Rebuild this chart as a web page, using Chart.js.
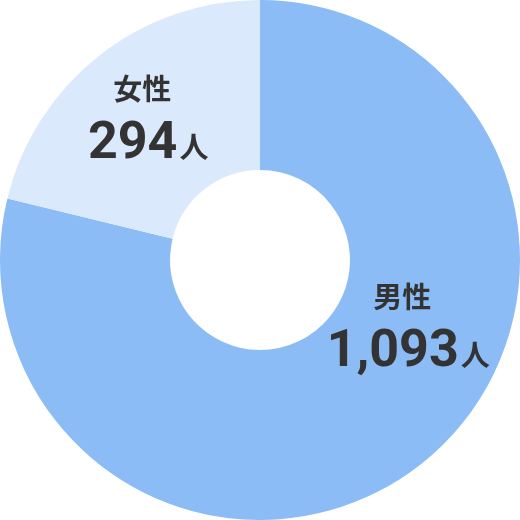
<!DOCTYPE html>
<html>
<head>
<meta charset="utf-8">
<script src="https://cdn.jsdelivr.net/npm/chart.js@4.4.0/dist/chart.umd.min.js"></script>
<style>
  html, body { margin: 0; padding: 0; background: #fff; }
  #wrap { width: 520px; height: 520px; }
</style>
</head>
<body>
<div id="wrap"><canvas id="pie"></canvas></div>
<script>
const labels = ["男性", "女性"];
const counts = [1093, 294];
const colors = ["#8cbcf6", "#dbe9fd"];
// label anchors as fraction of chart area (block center)
const labelPos = [[0.785, 0.625], [0.285, 0.225]];

const labelPlugin = {
    id: "sliceLabels",
    afterDatasetsDraw(chart) {
        const ctx = chart.ctx;
        const area = chart.chartArea;
        ctx.save();
        ctx.fillStyle = "#333333";
        ctx.textBaseline = "alphabetic";
        counts.forEach(function (v, i) {
            const cx = area.left + (area.right - area.left) * labelPos[i][0];
            const cy = area.top + (area.bottom - area.top) * labelPos[i][1];
            // first line: category
            ctx.font = "bold 29px 'Noto Sans CJK JP'";
            ctx.textAlign = "center";
            ctx.fillText(labels[i], cx - 6, cy - 17);
            // second line: number + 人
            const num = v.toLocaleString("en-US");
            ctx.font = "bold 52px Roboto";
            const w1 = ctx.measureText(num).width;
            ctx.font = "bold 29px 'Noto Sans CJK JP'";
            const w2 = ctx.measureText("人").width;
            let x = cx - (w1 + w2 + 2) / 2;
            ctx.textAlign = "left";
            ctx.font = "bold 52px Roboto";
            ctx.fillText(num, x, cy + 41);
            ctx.font = "bold 29px 'Noto Sans CJK JP'";
            ctx.fillText("人", x + w1 + 2, cy + 41);
        });
        ctx.restore();
    }
};

new Chart(document.getElementById("pie"), {
    type: "doughnut",
    data: {
        labels: labels,
        datasets: [{
            data: counts,
            backgroundColor: colors,
            borderWidth: 0
        }]
    },
    options: {
        responsive: true,
        maintainAspectRatio: false,
        animation: false,
        cutout: "34.6%",
        layout: { padding: 0 },
        plugins: {
            legend: { display: false },
            tooltip: { enabled: false }
        }
    },
    plugins: [labelPlugin]
});
</script>
</body>
</html>
